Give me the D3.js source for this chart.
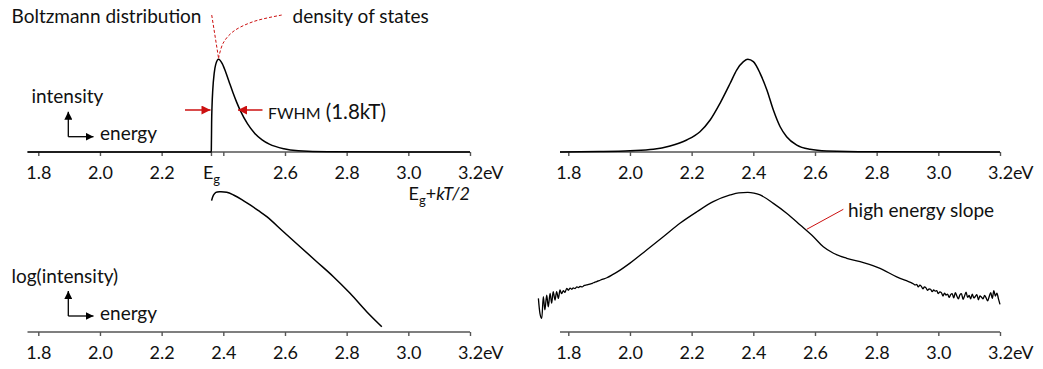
<!DOCTYPE html>
<html>
<head>
<meta charset="utf-8">
<script src="https://cdn.jsdelivr.net/npm/d3@7"></script>
<style>
  body { margin: 0; background: #fff; }
  svg { display: block; font-family: Lato, "Open Sans", sans-serif; }
</style>
</head>
<body>
<svg id="chart" width="1043" height="369"></svg>
<script>
// ---- axis ticks (eV) ----
const tickValues = [1.8, 2.0, 2.2, 2.4, 2.6, 2.8, 3.0, 3.2];
const tickLabels = ["1.8", "2.0", "2.2", "2.4", "2.6", "2.8", "3.0", "3.2"];
const bandgap = 2.36;

// ---- ideal band-edge emission, linear intensity (top left) ----
const idealEnergy = [1.765, 2.3605, 2.3611, 2.3621, 2.3634, 2.3658, 2.3705, 2.3752, 2.3846,
  2.3965, 2.4082, 2.4198, 2.4317, 2.4435, 2.4552, 2.4787, 2.5022, 2.5258, 2.5493, 2.5963,
  2.6433, 2.7374, 3.200];
const idealIntensity = [0, 0, 0.02, 0.32, 0.49, 0.66, 0.84, 0.93, 0.986,
  0.94, 0.846, 0.737, 0.628, 0.528, 0.44, 0.299, 0.198, 0.130, 0.084, 0.035,
  0.014, 0.002, 0];

// ---- ideal band-edge emission, log intensity (bottom left) ----
const idealLogEnergy = [2.362, 2.368, 2.376, 2.389, 2.411, 2.433, 2.460, 2.487, 2.514, 2.541,
  2.595, 2.649, 2.703, 2.757, 2.811, 2.865, 2.914];
const idealLogIntensity = [-0.529, -0.292, -0.179, -0.154, -0.179, -0.292, -0.480, -0.708, -0.945, -1.196,
  -1.821, -2.446, -3.071, -3.696, -4.388, -5.154, -5.779];

// ---- measured spectrum, linear intensity (top right) ----
const measEnergy = [1.773, 1.900, 2.000, 2.076, 2.130, 2.184, 2.227, 2.260, 2.292, 2.325,
  2.346, 2.368, 2.382, 2.400, 2.422, 2.444, 2.465, 2.487, 2.508, 2.541, 2.584, 2.638, 2.779, 3.200];
const measIntensity = [0, 0.005, 0.014, 0.029, 0.064, 0.128, 0.216, 0.340, 0.518, 0.731,
  0.872, 0.961, 0.986, 0.961, 0.837, 0.660, 0.447, 0.269, 0.163, 0.074, 0.029, 0.011, 0.002, 0];

// ---- measured spectrum, log intensity (bottom right) ----
const measLogEnergy = [1.703, 1.708, 1.714, 1.719, 1.724, 1.730, 1.735, 1.741, 1.746, 1.751,
  1.757, 1.762, 1.768, 1.773, 1.778, 1.784, 1.789, 1.795, 1.800, 1.806, 1.811, 1.816, 1.822,
  1.828, 1.833, 1.838, 1.845, 1.852, 1.860, 1.866, 1.872, 1.878, 1.885, 1.892, 1.900, 1.910,
  1.925, 1.945, 1.968, 1.999, 2.054, 2.108, 2.162, 2.217, 2.270, 2.325, 2.353, 2.382, 2.402, 2.422,
  2.465, 2.508, 2.552, 2.595, 2.627, 2.660, 2.703, 2.757, 2.811, 2.865, 2.900, 2.910, 2.920,
  2.925, 2.930, 2.935, 2.940, 2.945, 2.950, 2.955, 2.960, 2.965, 2.970, 2.975, 2.980, 2.985,
  2.990, 2.995, 3.000, 3.005, 3.010, 3.015, 3.020, 3.025, 3.030, 3.035, 3.040, 3.045, 3.050,
  3.055, 3.060, 3.065, 3.070, 3.075, 3.080, 3.085, 3.090, 3.095, 3.100, 3.105, 3.110, 3.115,
  3.120, 3.125, 3.130, 3.135, 3.140, 3.145, 3.150, 3.155, 3.160, 3.165, 3.170, 3.175, 3.180,
  3.185, 3.190, 3.195, 3.200];
const measLogIntensity = [-4.60, -5.22, -5.43, -4.53, -5.08, -4.46, -4.95, -4.39, -4.80, -4.32,
  -4.67, -4.32, -4.60, -4.25, -4.40, -4.28, -4.35, -4.18, -4.26, -4.17, -4.22, -4.16, -4.19,
  -4.12, -4.15, -4.10, -4.12, -4.06, -4.04, -4.02, -3.99, -3.97, -3.93, -3.90, -3.86, -3.81,
  -3.74, -3.60, -3.42, -3.14, -2.58, -2.03, -1.47, -0.99, -0.57, -0.29, -0.20, -0.18, -0.21, -0.29,
  -0.64, -1.05, -1.54, -2.03, -2.45, -2.72, -2.93, -3.11, -3.35, -3.70, -3.88, -3.93, -4.00,
  -4.04, -4.02, -4.12, -4.05, -4.10, -4.20, -4.12, -4.16, -4.26, -4.20, -4.22, -4.32, -4.25,
  -4.30, -4.28, -4.40, -4.33, -4.36, -4.50, -4.38, -4.46, -4.42, -4.56, -4.44, -4.40, -4.58,
  -4.36, -4.50, -4.62, -4.45, -4.40, -4.64, -4.50, -4.34, -4.56, -4.48, -4.62, -4.42, -4.58,
  -4.52, -4.44, -4.66, -4.50, -4.55, -4.62, -4.48, -4.58, -4.70, -4.52, -4.36, -4.60, -4.28,
  -4.50, -4.38, -4.62, -4.85];

// ---- annotation leaders (energy, intensity units of their panel) ----
const boltzmannLeader = [[2.3624, 1.457], [2.3846, 0.997]];
const dosLeader = [[2.5895, 1.457], [2.4964, 1.386], [2.4315, 1.280], [2.3991, 1.156], [2.3846, 0.997]];
const slopeLeader = [[2.5733, -1.721], [2.6920, -0.888]];

const zip = (a, b) => a.map((d, i) => [d, b[i]]);

// ---- scales ----
const xLeft = d3.scaleLinear().domain([1.8, 3.2]).range([38.3, 470]);
const xRight = d3.scaleLinear().domain([1.8, 3.2]).range([568.3, 1000]);
const yLin = d3.scaleLinear().domain([0, 1]).range([152, 58]);
const yLog = d3.scaleLinear().domain([-6, 0]).range([332, 188]);

const svg = d3.select("#chart");
const AXIS_COLOR = "#555";
const RED = "#cc1010";
const LABEL_SIZE = 19;

// ---- axes ----
function drawAxis(x, y0, startE, opts = {}) {
  const g = svg.append("g").attr("transform", `translate(0,${y0})`);
  g.append("line")
    .attr("x1", x(startE)).attr("x2", x(3.2))
    .attr("stroke", AXIS_COLOR).attr("stroke-width", 1.6);
  const values = opts.values || tickValues;
  const labels = opts.labels || tickLabels;
  const axis = d3.axisBottom(x)
    .tickValues(values)
    .tickSize(4)
    .tickFormat((d, i) => labels[i]);
  const ag = g.append("g").call(axis);
  ag.select(".domain").remove();
  ag.selectAll(".tick line").attr("stroke", AXIS_COLOR).attr("stroke-width", 1.4);
  ag.selectAll(".tick text")
    .attr("y", 27).attr("dy", 0)
    .attr("fill", "#111")
    .style("font-size", "18px")
    .style("font-family", "Lato, 'Open Sans', sans-serif");
  // unit written after the last tick value, number kept centred on its tick
  ag.selectAll(".tick text").filter(d => d === 3.2).each(function () {
    const t = d3.select(this);
    const w = this.getComputedTextLength();
    t.attr("text-anchor", "start").attr("x", -w / 2).text("3.2eV");
  });
  return ag;
}

// top-left axis: band gap marker replaces the 2.4 label
const tlValues = [1.8, 2.0, 2.2, bandgap, 2.4, 2.6, 2.8, 3.0, 3.2];
const tlLabels = ["1.8", "2.0", "2.2", "", "", "2.6", "2.8", "3.0", "3.2"];
const tlAxis = drawAxis(xLeft, 152, 1.765, { values: tlValues, labels: tlLabels });
tlAxis.selectAll(".tick text").filter(d => d === bandgap).each(function () {
  const t = d3.select(this).attr("text-anchor", "middle");
  t.append("tspan").text("E");
  t.append("tspan").attr("dy", 5).style("font-size", "13px").text("g");
});
drawAxis(xRight, 152, 1.773);
drawAxis(xLeft, 332, 1.765);
drawAxis(xRight, 332, 1.773);

// ---- curves ----
function drawCurve(data, x, y, curve, width = 1.5) {
  svg.append("path")
    .datum(data)
    .attr("fill", "none")
    .attr("stroke", "#000")
    .attr("stroke-width", width)
    .attr("stroke-linejoin", "round")
    .attr("d", d3.line().x(d => x(d[0])).y(d => y(d[1])).curve(curve));
}
drawCurve(zip(idealEnergy, idealIntensity), xLeft, yLin, d3.curveMonotoneX);
drawCurve(zip(measEnergy, measIntensity), xRight, yLin, d3.curveMonotoneX);
drawCurve(zip(idealLogEnergy, idealLogIntensity), xLeft, yLog, d3.curveCatmullRom);
drawCurve(zip(measLogEnergy, measLogIntensity), xRight, yLog, d3.curveMonotoneX, 1.3);

// ---- annotations ----
const text = (x, y, str, size = LABEL_SIZE) => svg.append("text")
  .attr("x", x).attr("y", y).attr("fill", "#111")
  .style("font-size", size + "px").text(str);

text(11.5, 23, "Boltzmann distribution");
text(292.5, 23, "density of states");

svg.append("path")
  .datum(boltzmannLeader)
  .attr("fill", "none").attr("stroke", RED).attr("stroke-width", 1)
  .attr("stroke-dasharray", "3,2")
  .attr("d", d3.line().x(d => xLeft(d[0])).y(d => yLin(d[1])));
svg.append("path")
  .datum(dosLeader)
  .attr("fill", "none").attr("stroke", RED).attr("stroke-width", 1)
  .attr("stroke-dasharray", "3,2")
  .attr("d", d3.line().x(d => xLeft(d[0])).y(d => yLin(d[1])).curve(d3.curveCatmullRom));

// arrowheads
const defs = svg.append("defs");
defs.append("marker")
  .attr("id", "redhead").attr("viewBox", "0 0 10 10")
  .attr("refX", 10).attr("refY", 5)
  .attr("markerWidth", 10).attr("markerHeight", 9).attr("markerUnits", "userSpaceOnUse")
  .attr("orient", "auto")
  .append("path").attr("d", "M0,0 L10,5 L0,10 Z").attr("fill", RED);
defs.append("marker")
  .attr("id", "blackhead").attr("viewBox", "0 0 10 10")
  .attr("refX", 10).attr("refY", 5)
  .attr("markerWidth", 8).attr("markerHeight", 8).attr("markerUnits", "userSpaceOnUse")
  .attr("orient", "auto")
  .append("path").attr("d", "M0,0 L10,5 L0,10 Z").attr("fill", "#000");

// FWHM arrows at half maximum
const halfY = 110;
svg.append("line").attr("x1", 185).attr("x2", 210.5).attr("y1", halfY).attr("y2", halfY)
  .attr("stroke", RED).attr("stroke-width", 1.5).attr("marker-end", "url(#redhead)");
svg.append("line").attr("x1", 262.5).attr("x2", 238).attr("y1", halfY).attr("y2", halfY)
  .attr("stroke", RED).attr("stroke-width", 1.5).attr("marker-end", "url(#redhead)");
const fw = svg.append("text").attr("x", 268).attr("y", 119).attr("fill", "#111");
fw.append("tspan").style("font-size", "16px").text("FWHM");
fw.append("tspan").attr("dx", 5).style("font-size", "20.5px").text("(1.8kT)");

// E_g + kT/2
const ek = svg.append("text").attr("x", 470).attr("y", 200)
  .attr("text-anchor", "end").attr("fill", "#111").style("font-size", "18px");
ek.append("tspan").text("E");
ek.append("tspan").attr("dy", 5).style("font-size", "13px").text("g");
ek.append("tspan").attr("dy", -5).text("+");
ek.append("tspan").style("font-style", "italic").text("kT/2");

// axis key icons
function axisKey(label, lx, ly, cornerY) {
  text(lx, ly, label);
  svg.append("line").attr("x1", 68.3).attr("x2", 68.3)
    .attr("y1", cornerY).attr("y2", cornerY - 25)
    .attr("stroke", "#000").attr("stroke-width", 1.3).attr("marker-end", "url(#blackhead)");
  svg.append("line").attr("x1", 68.3).attr("x2", 93.5)
    .attr("y1", cornerY).attr("y2", cornerY)
    .attr("stroke", "#000").attr("stroke-width", 1.3).attr("marker-end", "url(#blackhead)");
  text(100, cornerY + 3.5, "energy");
}
axisKey("intensity", 31.5, 103, 136.7);
axisKey("log(intensity)", 11.5, 283, 316);

// high energy slope
svg.append("path")
  .datum(slopeLeader)
  .attr("fill", "none").attr("stroke", RED).attr("stroke-width", 1)
  .attr("d", d3.line().x(d => xRight(d[0])).y(d => yLog(d[1])));
text(848, 217, "high energy slope");
</script>
</body>
</html>
